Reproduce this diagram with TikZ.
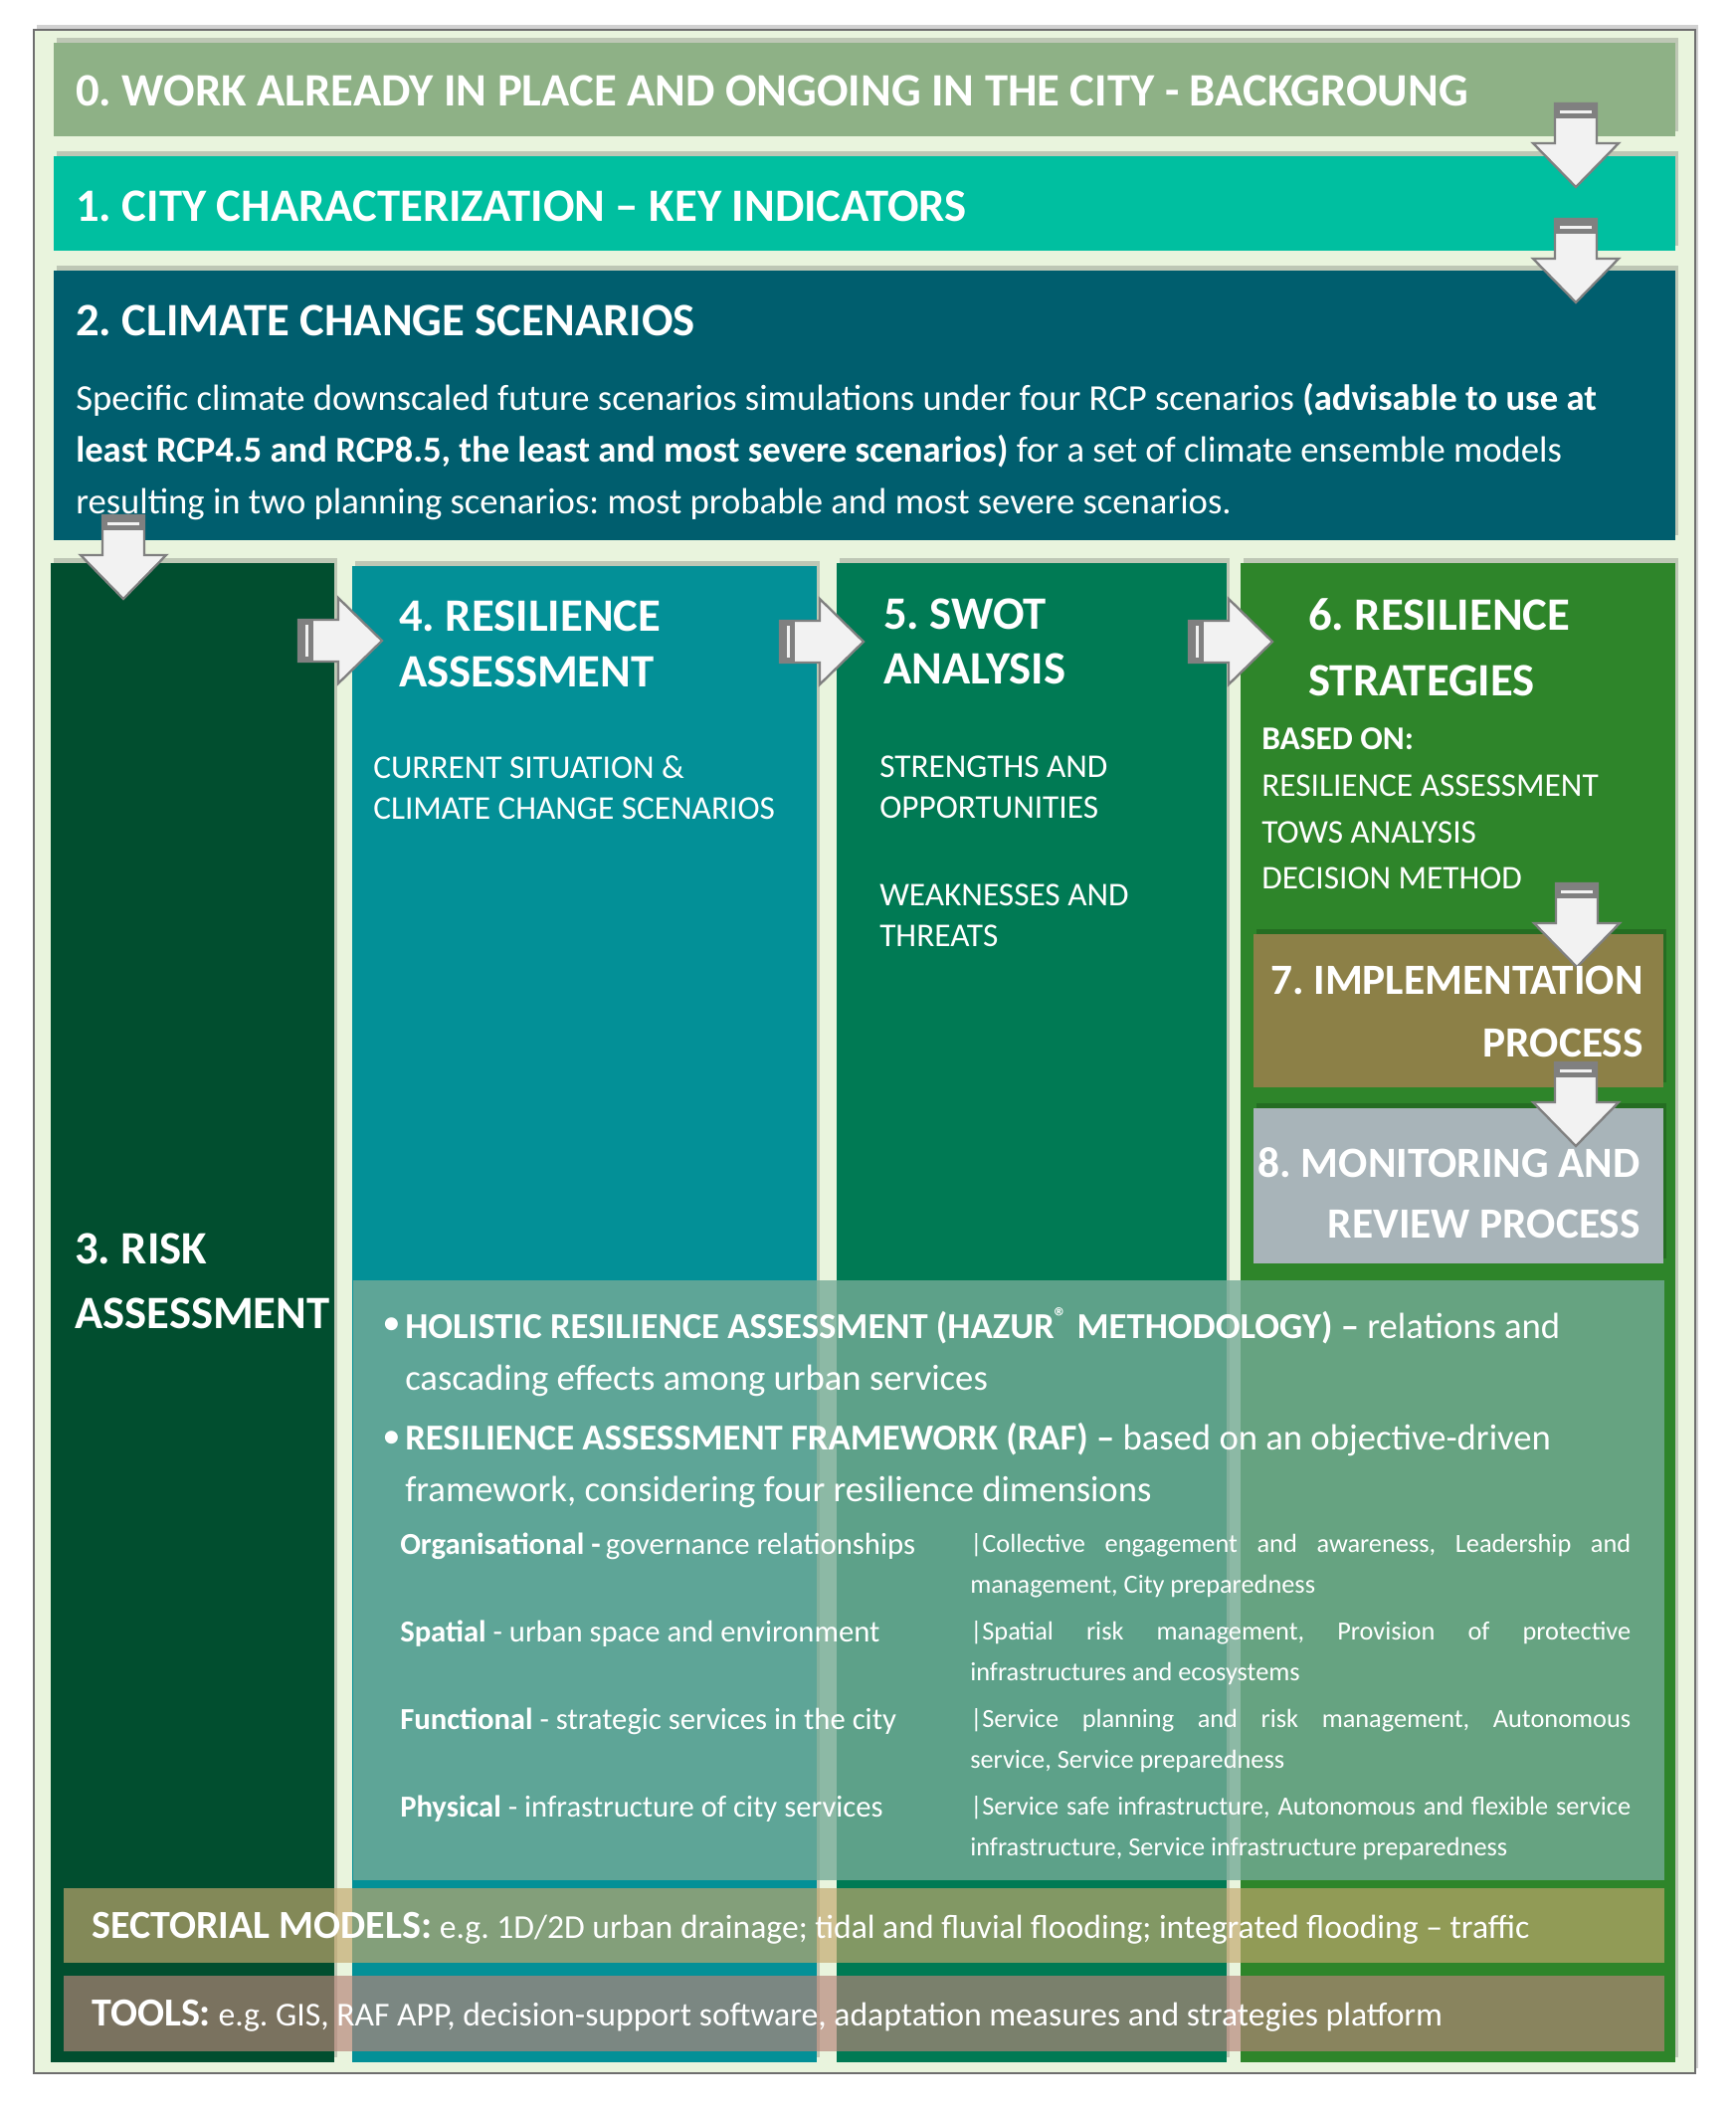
\documentclass[tikz,border=0pt]{standalone}
\usepackage{fontspec}
\setmainfont{Carlito}
\frenchspacing
\usetikzlibrary{fit}

\definecolor{framebg}{RGB}{233,244,221}
\definecolor{frameline}{RGB}{110,110,110}
\definecolor{sage}{RGB}{142,177,134}
\definecolor{aqua}{RGB}{0,191,160}
\definecolor{petrol}{RGB}{0,94,110}
\definecolor{forest}{RGB}{1,78,47}
\definecolor{teal4}{RGB}{3,144,151}
\definecolor{green5}{RGB}{0,122,84}
\definecolor{green6}{RGB}{46,133,42}
\definecolor{olive7}{RGB}{140,128,71}
\definecolor{grey8}{RGB}{168,180,185}
\definecolor{veil}{RGB}{117,171,151}
\definecolor{sectband}{RGB}{195,167,109}
\definecolor{toolband}{RGB}{182,132,120}
\definecolor{arrowfill}{RGB}{242,242,242}
\definecolor{arrowline}{RGB}{128,128,128}

\newcommand{\setfs}[2]{\fontsize{#1}{#2}\selectfont}
\newcommand{\bandkey}[1]{{\bfseries\setfs{12}{12}#1}}
% block arrow: #1 tail centre, #2 rotation (0 = down, -90 = right)
\newcommand{\blkarrow}[2]{%
  \begin{scope}[shift={#1}, rotate=#2]
    \draw[draw=arrowline, fill=arrowfill, line width=0.7pt] (-21,0) -- (21,0) -- (21,40) -- (43,40) -- (0,84) -- (-43,40) -- (-21,40) -- cycle;
    \fill[arrowline] (-21,0) rectangle (21,15);
    \fill[arrowfill] (-16,7) rectangle (16,10);
  \end{scope}}

\tikzset{every picture/.style={line width=0.75pt},
  box/.style={inner sep=0pt, outer sep=0pt, draw=none},
  shade/.style={preaction={fill=black, opacity=0.18, transform canvas={shift={(3,5)}}}},
  head/.style={text=white, font=\bfseries\setfs{14}{#1}, anchor=west, align=left, inner sep=0pt},
  headr/.style={text=white, font=\bfseries\setfs{13}{#1}, anchor=east, align=right, inner sep=0pt},
  body/.style={text=white, font=\setfs{11}{15.6}, anchor=west, align=left, inner sep=0pt},
  band/.style={text=white, font=\setfs{10.1}{12}, anchor=west, inner sep=0pt},
  sub/.style={text=white, font=\setfs{10}{#1}, anchor=west, align=left, inner sep=0pt},
  diml/.style={text=white, font=\setfs{9.2}{11}, anchor=west, inner sep=0pt},
  dimr/.style={text=white, font={\setfs{7.9}{12.3}\tolerance=9999}, text width=199.2pt, align=justify, anchor=west, inner sep=0pt},
}

\begin{document}
\begin{tikzpicture}[x=0.3pt,y=0.3pt,yscale=-1,xscale=1]
\useasboundingbox (0,0) rectangle (1745,2124);

% Frame
\node[box, fill=framebg, shade, draw=frameline, line width=0.5pt, fit={(34,30) (1704,2084)}] (frame) {};

% Boxes 0 - 2
\node[box, fill=sage, shade, fit={(54,43) (1684,137)}] (b0) {};
\node[box, fill=aqua, shade, fit={(54,157) (1684,252)}] (b1) {};
\node[box, fill=petrol, shade, fit={(54,272) (1684,543)}] (b2) {};

% Columns 3 - 6
\node[box, fill=forest, shade, fit={(51,566) (336,2073)}] (c3) {};
\node[box, fill=teal4, shade, fit={(354,569) (821,2073)}] (c4) {};
\node[box, fill=green5, shade, fit={(841,566) (1233,2073)}] (c5) {};
\node[box, fill=green6, shade, fit={(1247,566) (1684,2073)}] (c6) {};

% Boxes 7 - 8
\node[box, fill=olive7, shade, fit={(1260,939) (1672,1093)}] (b7) {};
\node[box, fill=grey8, shade, fit={(1260,1114) (1672,1270)}] (b8) {};

% Overlay and bands
\node[box, fill=veil, fill opacity=0.8, fit={(355,1287) (1673,1890)}] (ov) {};
\node[box, fill=sectband, fill opacity=0.67, fit={(64,1898) (1673,1973)}] (sm) {};
\node[box, fill=toolband, fill opacity=0.67, fit={(64,1986) (1673,2062)}] (tl) {};

% Block arrows
\coordinate (a01) at (1584,104);
\coordinate (a12) at (1584,220);
\coordinate (a23) at (124,518);
\coordinate (a34) at (300,644);
\coordinate (a45) at (784,645);
\coordinate (a56) at (1195,645);
\coordinate (a67) at (1585,888);
\coordinate (a78) at (1584,1068);
\blkarrow{(a01)}{0}
\blkarrow{(a12)}{0}
\blkarrow{(a23)}{0}
\blkarrow{(a34)}{-90}
\blkarrow{(a45)}{-90}
\blkarrow{(a56)}{-90}
\blkarrow{(a67)}{0}
\blkarrow{(a78)}{0}

% Text Node
\node[head=16] (t0) at (75,91) {0. WORK ALREADY IN PLACE AND ONGOING IN THE CITY - BACKGROUNG};
% Text Node
\node[head=16] (t1) at (75,207) {1. CITY CHARACTERIZATION – KEY INDICATORS};
% Text Node
\node[head=16] (t2) at (75,322) {2. CLIMATE CHANGE SCENARIOS};
% Text Node
\node[body] (t2b) at (75,454) {Specific climate downscaled future scenarios simulations under four RCP scenarios \textbf{(advisable to use at}\\
\textbf{least RCP4.5 and RCP8.5, the least and most severe scenarios)} for a set of climate ensemble models\\
resulting in two planning scenarios: most probable and most severe scenarios.};

% Text Node
\node[head=19.5] (t3) at (74,1288) {3. RISK\\ASSESSMENT};
% Text Node
\node[head=16.8] (t4) at (400,647) {4. RESILIENCE\\ASSESSMENT};
\node[sub=12.3] (t4b) at (374,792) {CURRENT SITUATION \&\\CLIMATE CHANGE SCENARIOS};
% Text Node
\node[head=16.5] (t5) at (887,645) {5. SWOT\\ANALYSIS};
\node[sub=12.3] (t5b) at (883,791) {STRENGTHS AND\\OPPORTUNITIES};
\node[sub=12.3] (t5c) at (883,920) {WEAKNESSES AND\\THREATS};
% Text Node
\node[head=19.8] (t6) at (1314,651) {6. RESILIENCE\\STRATEGIES};
\node[sub=14] (t6b) at (1267,813) {\textbf{BASED ON:}\\RESILIENCE ASSESSMENT\\TOWS ANALYSIS\\DECISION METHOD};
% Text Node
\node[headr=18.9] (t7) at (1653,1017) {7. IMPLEMENTATION\\PROCESS};
% Text Node
\node[headr=18.3] (t8) at (1650,1199) {8. MONITORING AND\\REVIEW PROCESS};

% Overlay text
\node[body] (bl1) at (383,1333) {•};
\node[body] (o1) at (406,1359) {\textbf{HOLISTIC RESILIENCE ASSESSMENT (HAZUR\textsuperscript{®} METHODOLOGY) –} relations and\\cascading effects among urban services};
\node[body] (bl2) at (383,1447) {•};
\node[body] (o2) at (406,1473) {\textbf{RESILIENCE ASSESSMENT FRAMEWORK (RAF) –} based on an objective-driven\\framework, considering four resilience dimensions};

\node[diml] (d1) at (401,1554) {\textbf{Organisational -}\,governance relationships};
\node[diml] (d2) at (401,1642) {\textbf{Spatial} - urban space and environment};
\node[diml] (d3) at (401,1730) {\textbf{Functional} - strategic services in the city};
\node[diml] (d4) at (401,1818) {\textbf{Physical} - infrastructure of city services};
\node[dimr] (r1) at (974,1574) {|Collective engagement and awareness, Leadership and\linebreak management, City preparedness};
\node[dimr] (r2) at (974,1662) {|Spatial risk management, Provision of protective\linebreak infrastructures and ecosystems};
\node[dimr] (r3) at (974,1750) {|Service planning and risk management, Autonomous\linebreak service, Service preparedness};
\node[dimr] (r4) at (974,1838) {|Service safe infrastructure, Autonomous and flexible service\linebreak infrastructure, Service infrastructure preparedness};

% Bands text
\node[band] (tsm) at (91,1938) {\bandkey{SECTORIAL MODELS:} e.g. 1D/2D urban drainage; tidal and fluvial flooding; integrated flooding – traffic};
\node[band] (ttl) at (91,2026) {\bandkey{TOOLS:} e.g. GIS, RAF APP, decision-support software, adaptation measures and strategies platform};

\end{tikzpicture}
\end{document}
